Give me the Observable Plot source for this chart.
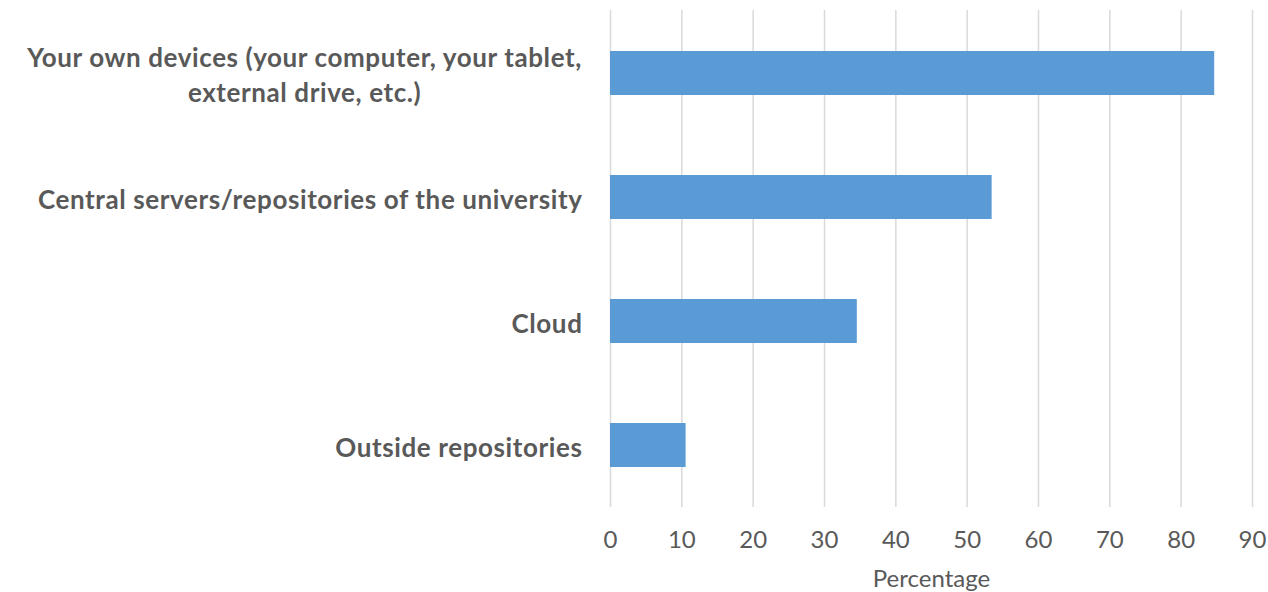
<!DOCTYPE html>
<html><head><meta charset="utf-8">
<script src="https://cdn.jsdelivr.net/npm/d3@7"></script>
<script src="https://cdn.jsdelivr.net/npm/@observablehq/plot@0.6"></script>
<style>body{margin:0;background:#fff}</style>
</head><body><div id="chart"></div>
<script>
const categories = [
  "Your own devices (your computer, your tablet,\nexternal drive, etc.)",
  "Central servers/repositories of the university",
  "Cloud",
  "Outside repositories"
];
const values = [84.7, 53.5, 34.6, 10.6];
const xTicks = [0, 10, 20, 30, 40, 50, 60, 70, 80, 90];
const xLabel = "Percentage";

const data = categories.map((c, i) => ({category: c, value: values[i]}));

const chart = Plot.plot({
  width: 1268, height: 592,
  marginLeft: 610, marginRight: 16, marginTop: 10, marginBottom: 85,
  style: {fontFamily: "Lato, sans-serif", color: "#595959", background: "#fff"},
  x: {domain: [0, 90], ticks: xTicks},
  y: {domain: categories, paddingInner: 0.648, paddingOuter: 0.324},
  marks: [
    Plot.gridX(xTicks, {stroke: "#d9d9d9", strokeOpacity: 1, strokeWidth: 1.5}),
    Plot.barX(data, {x: "value", y: "category", fill: "#5b9bd5"}),
    Plot.axisX({ticks: xTicks, tickSize: 0, tickPadding: 23, fontSize: 24, fontWeight: 400,
      label: xLabel, labelAnchor: "center", labelArrow: "none", labelOffset: 79, fill: "#595959"}),
    Plot.axisY({tickSize: 0, tickPadding: 28, fontSize: 26, fontWeight: "bold", lineHeight: 1.35, fill: "#595959", label: null})
  ]
});
document.getElementById("chart").append(chart);

chart.querySelectorAll('g[aria-label="y-axis tick label"] text').forEach(t => {
  t.style.letterSpacing = "0.6px";
});
// center multi-line category label block (as in reference)
chart.querySelectorAll('g[aria-label="y-axis tick label"] text').forEach(t => {
  const spans = t.querySelectorAll("tspan");
  if (spans.length > 1) {
    const bb = t.getBBox();
    t.setAttribute("text-anchor", "middle");
    spans.forEach(s => s.setAttribute("x", bb.x + bb.width / 2));
  }
});
</script>
</body></html>
